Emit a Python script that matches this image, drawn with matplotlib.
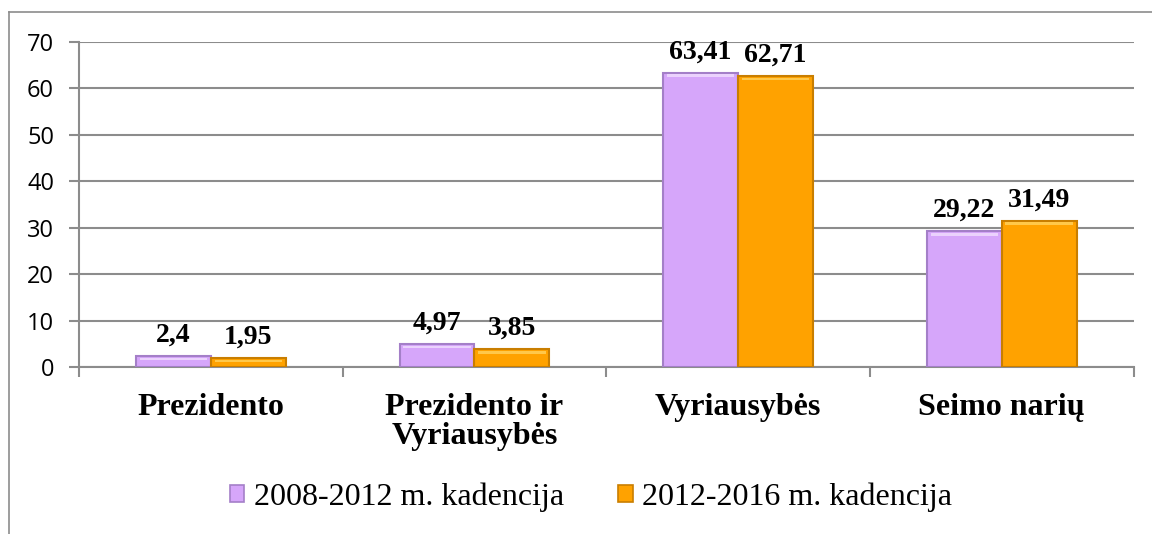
import matplotlib
matplotlib.use("Agg")
import matplotlib.pyplot as plt
import numpy as np
from matplotlib.lines import Line2D

categories = ["Prezidento", "Prezidento ir\nVyriausybės", "Vyriausybės", "Seimo narių"]
series_names = ["2008-2012 m. kadencija", "2012-2016 m. kadencija"]
values_2008 = [2.4, 4.97, 63.41, 29.22]
values_2012 = [1.95, 3.85, 62.71, 31.49]
yticks = [0, 10, 20, 30, 40, 50, 60, 70]

colors = ["#D6A6FA", "#FFA200"]
edges = ["#A47FC8", "#C97E00"]
tops = ["#EBD2FD", "#FFC84A"]

fig = plt.figure(figsize=(11.52, 5.34), dpi=100)
ax = fig.add_axes([0.0686, 0.3127, 0.9154, 0.6086])

# outer chart frame (only left and top are visible in the picture)
fig.add_artist(Line2D([9/1152, 9/1152], [0, 1 - 12/534], transform=fig.transFigure,
                      color="#8c8c8c", lw=1.2))
fig.add_artist(Line2D([9/1152, 1], [1 - 12/534, 1 - 12/534], transform=fig.transFigure,
                      color="#8c8c8c", lw=1.2))

x = np.arange(len(categories))
w = 0.284
b1 = ax.bar(x - w/2, values_2008, w, color=colors[0], edgecolor=edges[0], lw=1.5, zorder=3)
b2 = ax.bar(x + w/2, values_2012, w, color=colors[1], edgecolor=edges[1], lw=1.5, zorder=3)
# light bevel strip on top of each bar
strip = 0.6
ax.bar(x - w/2, [strip] * 4, w * 0.9, bottom=np.array(values_2008) - strip * 1.6,
       color=tops[0], lw=0, zorder=4)
ax.bar(x + w/2, [strip] * 4, w * 0.9, bottom=np.array(values_2012) - strip * 1.6,
       color=tops[1], lw=0, zorder=4)

# labels with comma decimal
def fmt(v):
    return ("%g" % v).replace(".", ",")

for bars, vals in ((b1, values_2008), (b2, values_2012)):
    for r, v in zip(bars, vals):
        ax.annotate(fmt(v), (r.get_x() + r.get_width()/2, v), xytext=(0, 6),
                    textcoords="offset points", ha="center", va="bottom",
                    fontsize=20, fontweight="bold", family="Liberation Serif", zorder=5)

ax.set_xlim(-0.5, len(categories) - 0.5)
ax.set_ylim(0, 70)
ax.set_yticks(yticks)
ax.set_yticklabels([str(t) for t in yticks], family="Open Sans", fontsize=17)
ax.yaxis.grid(True, color="#8c8c8c", lw=1.5, zorder=0)
ax.set_axisbelow(True)

ax.set_xticks(x)
ax.set_xticklabels(categories, family="Liberation Serif", fontweight="bold", fontsize=23,
                   linespacing=1.0, va="top")
ax.tick_params(axis="x", length=0, pad=19)
ax.set_xticks(np.arange(-0.5, len(categories)), minor=True)
ax.tick_params(axis="x", which="minor", length=7, width=1.5, color="#8c8c8c", direction="out")
ax.tick_params(axis="y", length=7, width=1.5, color="#8c8c8c", direction="out", pad=11)

for s in ["top", "right"]:
    ax.spines[s].set_visible(False)
for s in ["left", "bottom"]:
    ax.spines[s].set_color("#8c8c8c")
    ax.spines[s].set_linewidth(1.5)

handles = [plt.Rectangle((0, 0), 1, 1, facecolor=colors[i], edgecolor=edges[i], lw=1.2)
           for i in range(2)]
fig.legend(handles, series_names, loc="center", bbox_to_anchor=(591/1152, 1 - 497/534), ncol=2,
           frameon=False, prop={"family": "Liberation Serif", "size": 23},
           handlelength=0.45, handleheight=0.45, handletextpad=0.3, columnspacing=1.7)

fig.savefig("out.png", dpi=100)
